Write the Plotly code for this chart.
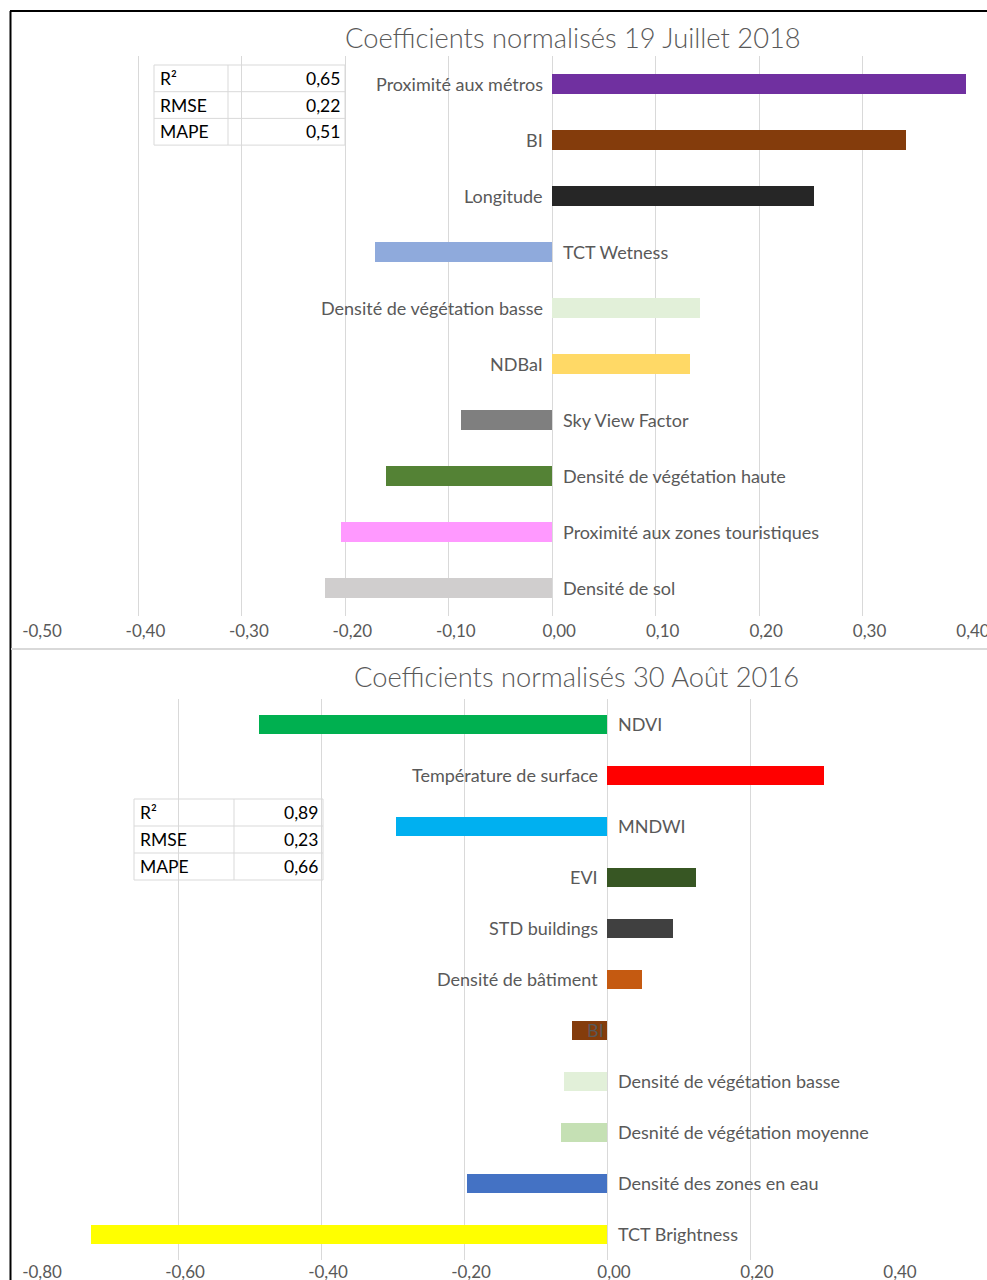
import plotly.graph_objects as go

W, H = 987, 1280

# ---------------- data ----------------
title1 = "Coefficients normalisés 19 Juillet 2018"
cats1 = ["Proximité aux métros", "BI", "Longitude", "TCT Wetness",
         "Densité de végétation basse", "NDBaI", "Sky View Factor",
         "Densité de végétation haute", "Proximité aux zones touristiques",
         "Densité de sol"]
vals1 = [0.400, 0.342, 0.253, -0.171, 0.143, 0.133, -0.088, -0.161, -0.204, -0.220]
cols1 = ["#7030A0", "#843C0C", "#262626", "#8FAADC", "#E2F0D9", "#FFD966",
         "#7F7F7F", "#548235", "#FF99FF", "#D0CECE"]
ticks1 = [-0.5, -0.4, -0.3, -0.2, -0.1, 0.0, 0.1, 0.2, 0.3, 0.4]
ticktext1 = ["-0,50", "-0,40", "-0,30", "-0,20", "-0,10", "0,00", "0,10", "0,20", "0,30", "0,40"]

title2 = "Coefficients normalisés 30 Août 2016"
cats2 = ["NDVI", "Température de surface", "MNDWI", "EVI", "STD buildings",
         "Densité de bâtiment", "BI", "Densité de végétation basse",
         "Desnité de végétation moyenne", "Densité des zones en eau",
         "TCT Brightness"]
vals2 = [-0.487, 0.303, -0.295, 0.124, 0.092, 0.049, -0.049, -0.060, -0.064, -0.196, -0.722]
cols2 = ["#00B050", "#FF0000", "#00B0F0", "#375623", "#404040", "#C55A11",
         "#843C0C", "#E2F0D9", "#C5E0B4", "#4472C4", "#FFFF00"]
ticks2 = [-0.8, -0.6, -0.4, -0.2, 0.0, 0.2, 0.4]
ticktext2 = ["-0,80", "-0,60", "-0,40", "-0,20", "0,00", "0,20", "0,40"]

metrics = ["R²", "RMSE", "MAPE"]
stats1 = ["0,65", "0,22", "0,51"]
stats2 = ["0,89", "0,23", "0,66"]

# ---------------- style ----------------
FONT = "Lato"
GREY = "#595959"
GRID = "#D9D9D9"
LBL = 18


def px(x):
    return x / W


def py(y):
    return 1 - y / H


fig = go.Figure()

fig.add_trace(go.Bar(x=vals1, y=cats1, orientation="h", marker=dict(color=cols1, line=dict(width=0)),
                     width=0.36, xaxis="x", yaxis="y", showlegend=False, hoverinfo="x+y"))
fig.add_trace(go.Bar(x=vals2, y=cats2, orientation="h", marker=dict(color=cols2, line=dict(width=0)),
                     width=0.36, xaxis="x2", yaxis="y2", showlegend=False, hoverinfo="x+y"))

annotations = []
shapes = []


def add_labels(cats, vals, xr, yr, overrides=()):
    for c, v in zip(cats, vals):
        if c in overrides:
            anchor, shift = "right", -1
        elif v > 0:
            anchor, shift = "right", -7
        else:
            anchor, shift = "left", 9
        annotations.append(dict(x=0, y=c, xref=xr, yref=yr, text=c, showarrow=False,
                                xanchor=anchor, xshift=shift,
                                font=dict(family=FONT, size=LBL, color=GREY)))


add_labels(cats1, vals1, "x", "y")
add_labels(cats2, vals2, "x2", "y2", overrides=("BI",))


def add_table(left, mid, right, top, rowh, values):
    n = len(metrics)
    for i in range(n + 1):
        yy = top + i * rowh
        shapes.append(dict(type="line", xref="paper", yref="paper", x0=px(left), x1=px(right),
                           y0=py(yy), y1=py(yy), line=dict(color=GRID, width=1)))
    for xx in (left, mid, right):
        shapes.append(dict(type="line", xref="paper", yref="paper", x0=px(xx), x1=px(xx),
                           y0=py(top), y1=py(top + n * rowh), line=dict(color=GRID, width=1)))
    for i, (m, v) in enumerate(zip(metrics, values)):
        yc = top + (i + 0.5) * rowh
        annotations.append(dict(x=px(left + 4), y=py(yc), xref="paper", yref="paper", text=m,
                                showarrow=False, xanchor="left", yanchor="middle",
                                font=dict(family=FONT, size=17.5, color="#000000")))
        annotations.append(dict(x=px(right - 3), y=py(yc), xref="paper", yref="paper", text=v,
                                showarrow=False, xanchor="right", yanchor="middle",
                                font=dict(family=FONT, size=17.5, color="#000000")))


add_table(154, 228, 345, 65, 26.7, stats1)
add_table(134, 234, 323, 799, 27, stats2)

# titles
annotations.append(dict(x=px(573), y=py(38), xref="paper", yref="paper", text=title1, showarrow=False,
                        xanchor="center", yanchor="middle",
                        font=dict(family=FONT, size=27.3, color=GREY, weight=300)))
annotations.append(dict(x=px(576), y=py(676), xref="paper", yref="paper", text=title2, showarrow=False,
                        xanchor="center", yanchor="middle",
                        font=dict(family=FONT, size=27.3, color=GREY, weight=300)))

# frame lines
shapes.append(dict(type="line", xref="paper", yref="paper", x0=px(10.5), x1=px(10.5), y0=py(11), y1=0,
                   line=dict(color="#000000", width=2)))
shapes.append(dict(type="line", xref="paper", yref="paper", x0=px(10), x1=1, y0=py(11), y1=py(11),
                   line=dict(color="#000000", width=2)))
shapes.append(dict(type="line", xref="paper", yref="paper", x0=px(11), x1=1, y0=py(649), y1=py(649),
                   line=dict(color=GRID, width=2)))

axis_common = dict(showline=False, zeroline=False, showgrid=True, gridcolor=GRID, gridwidth=1,
                   ticks="", tickfont=dict(family=FONT, size=17, color=GREY), fixedrange=True,
                   automargin=False, ticklabelshift=7, ticklabeloverflow="allow")

fig.update_layout(
    width=W, height=H, autosize=False,
    margin=dict(l=0, r=0, t=0, b=0, pad=0, autoexpand=False),
    paper_bgcolor="white", plot_bgcolor="white",
    bargap=0,
    xaxis=dict(domain=[px(35), px(966)], range=[ticks1[0], ticks1[-1] + 1e-9], anchor="y",
               tickvals=ticks1, ticktext=ticktext1, ticklabelstandoff=3, **axis_common),
    yaxis=dict(domain=[py(616), py(56)], anchor="x", categoryorder="array", categoryarray=cats1,
               range=[len(cats1) - 0.5, -0.5], showticklabels=False, showgrid=False,
               zeroline=False, showline=False, ticks="", automargin=False),
    xaxis2=dict(domain=[px(35), px(893)], range=[ticks2[0], ticks2[-1] + 1e-9], anchor="y2",
                tickvals=ticks2, ticktext=ticktext2, ticklabelstandoff=0, **axis_common),
    yaxis2=dict(domain=[py(1259.5), py(698.5)], anchor="x2", categoryorder="array", categoryarray=cats2,
                range=[len(cats2) - 0.5, -0.5], showticklabels=False, showgrid=False,
                zeroline=False, showline=False, ticks="", automargin=False),
    annotations=annotations,
    shapes=shapes,
)

fig.write_html(
    "out.html",
    config={"responsive": False, "displayModeBar": False},
    post_script="document.body.style.margin='0px';document.documentElement.style.overflow='hidden';document.body.style.overflow='hidden';",
)
